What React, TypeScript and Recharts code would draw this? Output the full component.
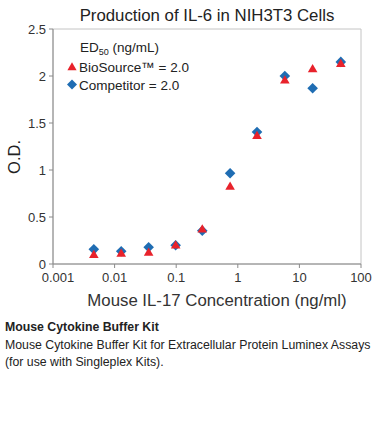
import React from 'react';
import { ScatterChart, Scatter, XAxis, YAxis, ReferenceArea } from 'recharts';

const concentrations = [0.0046, 0.0128, 0.0357, 0.098, 0.265, 0.75, 2.05, 5.8, 16.4, 47];
const bioSourceOD = [0.103, 0.117, 0.128, 0.205, 0.375, 0.83, 1.37, 1.96, 2.08, 2.135];
const competitorOD = [0.156, 0.135, 0.178, 0.2, 0.354, 0.965, 1.405, 2.0, 1.87, 2.15];
const xTicks = [0.001, 0.01, 0.1, 1, 10, 100];
const yTicks = [0, 0.5, 1, 1.5, 2, 2.5];

const bioData = concentrations.map((x, i) => ({ x, y: bioSourceOD[i] }));
const compData = concentrations.map((x, i) => ({ x, y: competitorOD[i] }));

const RED = '#e8222b';
const BLUE = '#1f6db3';
const FONT = 'Arial, "Liberation Sans", Helvetica, sans-serif';

const Triangle = (props: any) => {
  const { cx, cy } = props;
  if (cx == null || cy == null) return null;
  return (
    <polygon
      points={`${cx},${cy - 4.5} ${cx - 4.8},${cy + 3.8} ${cx + 4.8},${cy + 3.8}`}
      fill={RED}
    />
  );
};

const Diamond = (props: any) => {
  const { cx, cy } = props;
  if (cx == null || cy == null) return null;
  return (
    <polygon
      points={`${cx},${cy - 5.3} ${cx + 5.3},${cy} ${cx},${cy + 5.3} ${cx - 5.3},${cy}`}
      fill={BLUE}
    />
  );
};

const fmt = (v: number) => String(v);

const XTick = (props: any) => {
  const { x, y, payload } = props;
  const dx = payload.value === 0.001 ? 5 : 0;
  return (
    <text x={x + dx} y={y + 5} textAnchor="middle" dominantBaseline="central" fontSize={13} fill="#333" fontFamily={FONT}>
      {fmt(payload.value)}
    </text>
  );
};

export default function App() {
  return (
    <div style={{ position: 'absolute', left: 0, top: 0, width: 376, height: 424, fontFamily: FONT, background: '#fff' }}>
      <div style={{ position: 'absolute', left: 0, top: 0 }}>
        <ScatterChart width={376} height={310} margin={{ top: 29, right: 15, bottom: 0, left: 0 }}>
          <ReferenceArea x1={0.001} x2={100} y1={0} y2={2.5} fill="none" stroke="#c4c4c4" strokeWidth={1} ifOverflow="extendDomain" />
          <XAxis
            dataKey="x"
            type="number"
            scale="log"
            domain={[0.001, 100]}
            ticks={xTicks}
            tickFormatter={fmt}
            allowDataOverflow
            height={46}
            stroke="#8a8a8a"
            tickSize={4}
            tickMargin={4}
            tick={<XTick />}
            interval={0}
          />
          <YAxis
            dataKey="y"
            type="number"
            domain={[0, 2.5]}
            ticks={yTicks}
            tickFormatter={fmt}
            width={53}
            stroke="#8a8a8a"
            tickSize={4}
            tickMargin={3}
            tick={{ fill: '#333', fontSize: 13, fontFamily: FONT }}
            interval={0}
          />
          <Scatter data={compData} fill={BLUE} shape={Diamond} isAnimationActive={false} />
          <Scatter data={bioData} fill={RED} shape={Triangle} isAnimationActive={false} />
        </ScatterChart>
      </div>
      <svg width={376} height={310} style={{ position: 'absolute', left: 0, top: 0, pointerEvents: 'none' }}>
        <text x={207} y={20.5} textAnchor="middle" fontSize={16.8} fill="#222" fontFamily={FONT}>
          Production of IL-6 in NIH3T3 Cells
        </text>
        <text x={0} y={0} transform="translate(20,157) rotate(-90)" textAnchor="middle" fontSize={16.5} fill="#222" fontFamily={FONT}>
          O.D.
        </text>
        <text x={217} y={305.5} textAnchor="middle" fontSize={16.8} fill="#333" fontFamily={FONT}>
          Mouse IL-17 Concentration (ng/ml)
        </text>
        <text x={80} y={52} fontSize={13.5} fill="#222" fontFamily={FONT}>
          ED<tspan fontSize={9} dy={3}>50</tspan>
          <tspan dy={-3}> (ng/mL)</tspan>
        </text>
        <polygon points="72,62.3 67.4,70.3 76.6,70.3" fill={RED} />
        <text x={79} y={71.5} fontSize={13.5} fill="#222" fontFamily={FONT}>
          BioSource™ = 2.0
        </text>
        <polygon points="72,79.5 77,84.5 72,89.5 67,84.5" fill={BLUE} />
        <text x={79} y={89.5} fontSize={13.5} fill="#222" fontFamily={FONT}>
          Competitor = 2.0
        </text>
      </svg>
      <div style={{ position: 'absolute', left: 5, top: 319, fontSize: 12.3, lineHeight: '17.5px', color: '#222', fontFamily: FONT, whiteSpace: 'nowrap' }}>
        <div style={{ fontWeight: 'bold' }}>Mouse Cytokine Buffer Kit</div>
        <div>Mouse Cytokine Buffer Kit for Extracellular Protein Luminex Assays</div>
        <div>(for use with Singleplex Kits).</div>
      </div>
    </div>
  );
}
